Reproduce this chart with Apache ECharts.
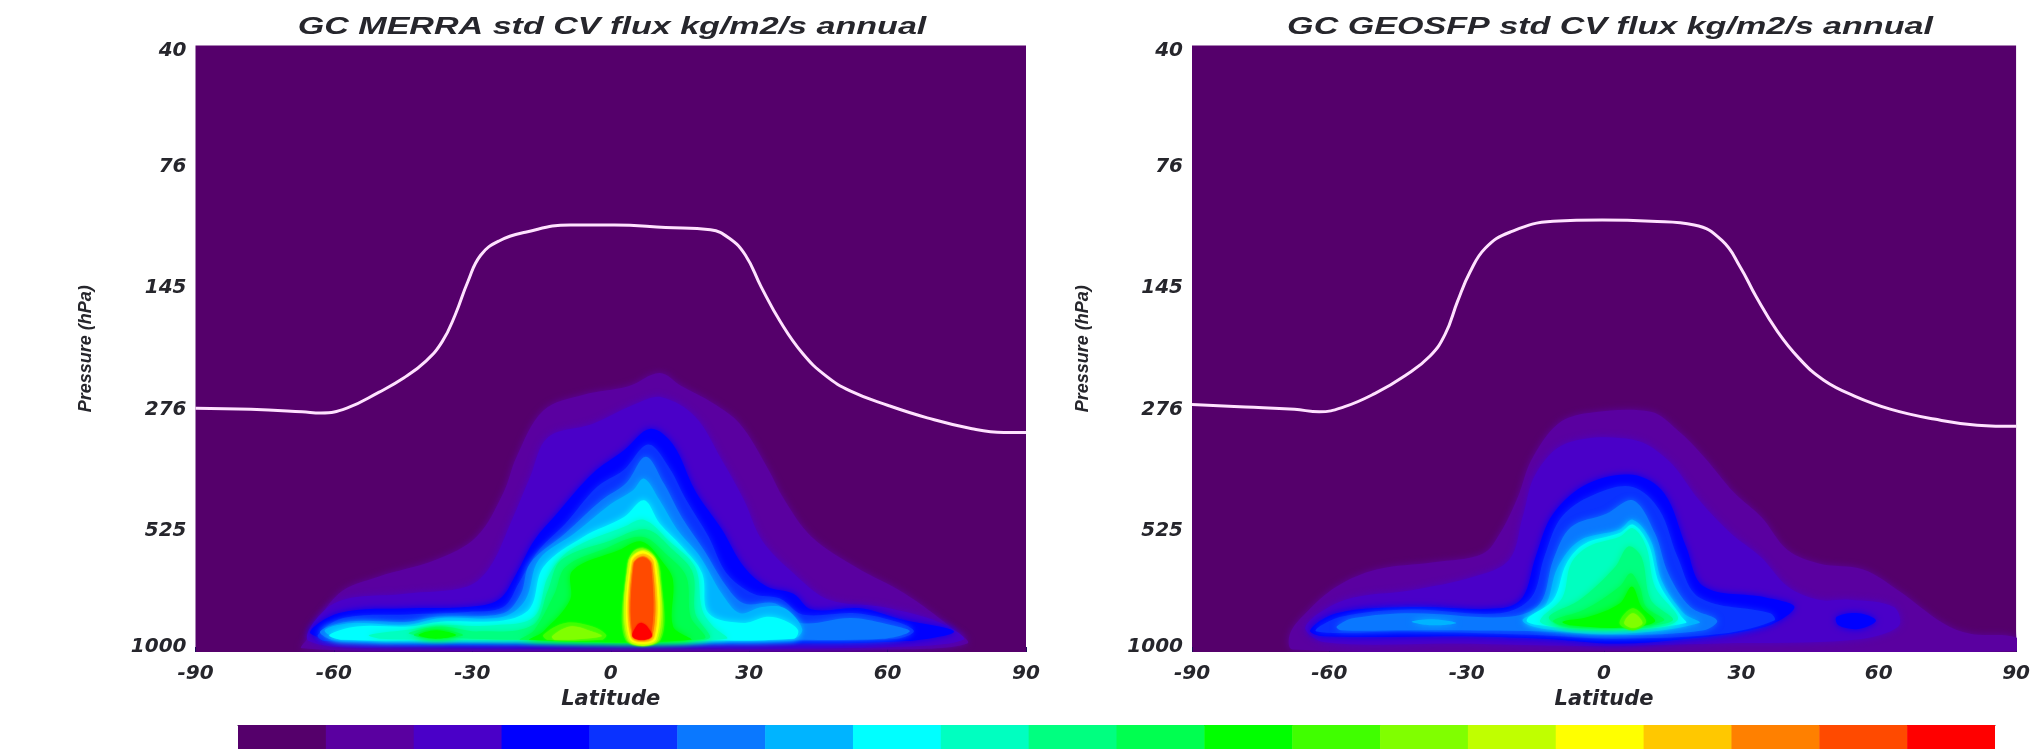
<!DOCTYPE html>
<html><head><meta charset="utf-8">
<style>html,body{margin:0;padding:0;background:#fff;overflow:hidden}#c{width:2033px;height:749px;filter:blur(0.7px)}</style>
<script src="https://cdn.jsdelivr.net/npm/echarts@6/dist/echarts.min.js"></script>
</head><body><div id="c"></div>
<script>
// Tick labels. The pressure axis is log-spaced: y values are the step index between these labels.
const pressureTicks = ['40','76','145','276','525','1000'];
const latTicks = [-90,-60,-30,0,30,60,90];
const bandColors = ['#55006b','#5a00a0','#4a00c8','#0000ff','#0a32ff','#0a78ff','#00b4ff','#00ffff','#00ffc0','#00ff80','#00ff50','#00ff00','#40ff00','#80ff00','#c0ff00','#ffff00','#ffc800','#ff8000','#ff4a00','#ff0000'];

// Tropopause lines: [latitude, pressure step]
const merraLine = [[-90,2.99],[-78,3.00],[-66.9,3.02],[-62.8,3.03],[-57.2,2.99],[-50.3,2.86],[-44.8,2.74],[-40,2.60],[-36.5,2.44],[-33.7,2.22],[-31,1.95],[-28.2,1.73],[-24.1,1.61],[-18.5,1.54],[-8.8,1.48],[0.8,1.48],[11.9,1.50],[21.6,1.52],[25.7,1.59],[29.2,1.73],[32.6,1.99],[36.8,2.28],[41.6,2.54],[46.5,2.72],[52,2.85],[60.3,2.97],[68.6,3.07],[78.3,3.16],[85.2,3.19],[90,3.19]];
const geosLine = [[-90,2.96],[-78.3,2.98],[-67.6,3.00],[-62.2,3.02],[-56.8,2.98],[-50.1,2.87],[-43.4,2.72],[-38,2.56],[-34.7,2.38],[-32,2.11],[-29.3,1.87],[-25.9,1.67],[-20.6,1.54],[-11.1,1.45],[-0.4,1.44],[10.3,1.45],[19.7,1.48],[25.8,1.61],[29.8,1.83],[33.2,2.07],[37.9,2.36],[42.6,2.58],[48,2.76],[54.7,2.89],[62.7,3.00],[72.1,3.08],[81.5,3.13],[90,3.14]];

// Filled contours of the MERRA panel: [latitude, pressure step], one array per colour band
const merra1 = [[-67,4.97],[-65.9,4.90],[-59,4.52],[-50.4,4.38],[-37.9,4.24],[-29.1,4.05],[-23.3,3.69],[-20.4,3.39],[-14.6,3.01],[-5.9,2.88],[3.8,2.81],[10.6,2.70],[15.4,2.81],[22.2,2.95],[28,3.12],[33.8,3.47],[37.7,3.75],[43.5,4.05],[53.1,4.30],[63.8,4.52],[73.5,4.79],[77.3,4.93],[60,4.98],[0,4.99],[-40,4.99]];
const merra2 = [[-65.4,4.91],[-60,4.60],[-44.6,4.52],[-31.1,4.46],[-26.2,4.30],[-21.4,3.91],[-17.5,3.56],[-13.6,3.23],[-4,3.12],[5.7,2.95],[11,2.90],[18.3,3.06],[24.1,3.42],[28.9,3.75],[32.8,4.08],[39.6,4.35],[47.3,4.57],[59,4.63],[71.5,4.76],[76.4,4.90],[60,4.96],[0,4.97],[-40,4.96]];
const merra3 = [[-65,4.85],[-59,4.68],[-42.7,4.64],[-31.1,4.63],[-24.3,4.57],[-20.4,4.35],[-16.6,4.08],[-11.7,3.86],[-4,3.53],[2.8,3.34],[8.6,3.16],[13.5,3.29],[18.3,3.67],[24.1,3.99],[28.9,4.30],[33.8,4.46],[39.6,4.52],[43.5,4.65],[54.1,4.64],[62.8,4.73],[74.4,4.83],[63.8,4.91],[30,4.93],[-20,4.94],[-50,4.93]];
const merra4 = [[-63.5,4.86],[-58,4.72],[-43.7,4.69],[-31.1,4.67],[-23.3,4.63],[-19.9,4.43],[-15.6,4.16],[-9.8,3.94],[-3,3.64],[2.8,3.50],[8.1,3.29],[12.5,3.47],[16.4,3.75],[21.2,4.05],[25.1,4.35],[30.9,4.52],[36.7,4.56],[41.5,4.69],[53.1,4.68],[62.8,4.76],[65.7,4.83],[61.9,4.89],[35,4.91],[-14,4.92],[-62,4.91]];
const merra5 = [[-63,4.83],[-57,4.75],[-43.7,4.75],[-37.9,4.71],[-23.3,4.68],[-19.5,4.52],[-17.5,4.27],[-9.8,4.02],[-2,3.75],[3.3,3.61],[7.6,3.39],[11.5,3.61],[15.4,3.89],[20.2,4.16],[25.1,4.46],[28.9,4.60],[35.7,4.60],[41,4.76],[52.2,4.72],[60.9,4.78],[64.8,4.83],[59,4.89],[35,4.90],[-14,4.91],[-60,4.90]];
const merra6 = [[-62,4.82],[-56,4.76],[-44.6,4.78],[-36.9,4.72],[-23.3,4.71],[-18.5,4.57],[-15.6,4.24],[-7.8,4.02],[0,3.78],[4.7,3.67],[7.2,3.57],[10.6,3.75],[14.4,3.99],[19.3,4.21],[24.1,4.52],[28,4.68],[32.8,4.63],[37.7,4.64],[41.5,4.81],[39.6,4.89],[10,4.90],[-30,4.90],[-58,4.90]];
const merra7 = [[-61,4.86],[-55,4.79],[-43.7,4.79],[-36.9,4.75],[-23.3,4.74],[-17.5,4.64],[-14.6,4.30],[-5.9,4.05],[2.8,3.89],[7.2,3.75],[10.6,3.94],[15.4,4.13],[19.8,4.35],[21.2,4.68],[28.9,4.76],[33.8,4.71],[37.7,4.74],[40.6,4.82],[39.6,4.89],[10,4.90],[-30,4.90],[-58,4.90]];
const merra8 = [[-52.4,4.86],[-42.7,4.81],[-36.9,4.78],[-25.3,4.78],[-16.6,4.71],[-13.6,4.38],[-8.8,4.16],[2.8,3.97],[7.2,3.91],[12.5,4.08],[18.3,4.30],[19.8,4.65],[22.2,4.79],[25.1,4.89],[0,4.90],[-30,4.90],[-50,4.89]];
const merra9 = [[-43.7,4.85],[-36.9,4.79],[-29,4.83],[-17,4.78],[-13.6,4.49],[-10.7,4.24],[0,4.08],[7.7,3.99],[13.5,4.16],[17.8,4.35],[18.3,4.68],[21.2,4.89],[-5,4.90],[-30,4.89]];
const merra10a = [[-42.7,4.86],[-37.9,4.81],[-32,4.86],[-38,4.89]];
const merra10b = [[-16.6,4.82],[-12.2,4.52],[-9.8,4.30],[-2,4.16],[6.7,4.05],[12.5,4.21],[16.4,4.38],[17.3,4.71],[20.2,4.89],[-19.5,4.90]];
const merra11a = [[-41.7,4.86],[-37.9,4.82],[-33.5,4.86],[-37.9,4.89]];
const merra11b = [[-14.6,4.83],[-8.8,4.57],[-8.3,4.33],[1.8,4.16],[6.7,4.09],[11.5,4.27],[13.5,4.41],[13.5,4.79],[17.3,4.90],[-17.5,4.90]];
const merra12a = [[-14.6,4.86],[-9.8,4.76],[-4,4.79],[-1,4.86],[-2,4.90],[-13.6,4.90]];
const merra12b = [[3.2,4.90],[3.5,4.30],[5,4.17],[7.2,4.14],[9.6,4.21],[10.8,4.35],[10.8,4.90]];
const merra13a = [[-12.7,4.87],[-8.8,4.79],[-4.9,4.82],[-2,4.87],[-12,4.90]];
const merra13b = [[3.5,4.90],[3.7,4.27],[5,4.17],[7.2,4.15],[9.3,4.21],[10.5,4.33],[10.5,4.90]];
const merra14 = [[3.8,4.90],[3.9,4.26],[7.2,4.16],[10.1,4.27],[10.1,4.90]];
const merra15 = [[4.1,4.89],[4.3,4.25],[6.9,4.17],[9.7,4.26],[9.8,4.89]];
const merra16 = [[4.4,4.88],[4.6,4.26],[7,4.19],[9.3,4.26],[9.4,4.88]];
const merra17 = [[4.7,4.87],[4.8,4.28],[7,4.21],[9,4.28],[9,4.87]];
const merra18 = [[4.9,4.87],[5,4.28],[6.9,4.22],[8.7,4.28],[8.6,4.87]];
const merra19 = [[4.7,4.87],[5.7,4.78],[6.7,4.76],[7.9,4.79],[8.9,4.87],[6.7,4.90]];

// Filled contours of the GEOSFP panel
const geos1 = [[-68.6,4.85],[-65.2,4.68],[-58.4,4.46],[-49.7,4.32],[-37.2,4.26],[-26.5,4.19],[-22.7,4.02],[-18.8,3.72],[-15.9,3.42],[-10.1,3.12],[-3.4,3.03],[10.2,3.02],[16,3.17],[21.8,3.39],[28.5,3.69],[34.4,3.89],[40.1,4.16],[46.9,4.27],[56.6,4.32],[64.2,4.49],[74,4.76],[80,4.85],[90,4.88],[90,4.99],[0,4.99],[-68,4.98]];
const geos2 = [[-65.2,4.79],[-56.5,4.57],[-42,4.49],[-28.5,4.38],[-20.7,4.24],[-17.8,3.89],[-14.9,3.53],[-8.2,3.28],[6.3,3.25],[14,3.42],[20.8,3.75],[27.6,4.02],[34.3,4.22],[40.1,4.46],[46.9,4.57],[53.7,4.57],[63.3,4.63],[64.3,4.79],[54.6,4.90],[25,4.93],[-3.4,4.95],[-32,4.93],[-61,4.92]];
const geos3a = [[-64.2,4.82],[-58.4,4.68],[-42,4.63],[-22.7,4.64],[-17.8,4.55],[-14.9,4.21],[-11.1,3.86],[-3.4,3.61],[6.3,3.54],[13.1,3.69],[17.9,4.13],[21.8,4.46],[35.3,4.55],[41.6,4.63],[35.3,4.79],[16,4.90],[2.4,4.93],[-13,4.89],[-32.3,4.87],[-61.3,4.87]];
const geos3b = [[50.8,4.71],[55.6,4.68],[59.4,4.74],[55.6,4.81],[51.2,4.78]];
const geos4 = [[-62.8,4.83],[-57.5,4.71],[-42,4.65],[-22.7,4.68],[-15.9,4.55],[-13,4.21],[-9.1,3.88],[-1.4,3.69],[6.3,3.64],[12.1,3.83],[16,4.21],[20.8,4.55],[36.3,4.68],[37.2,4.74],[25.6,4.85],[2.4,4.89],[-14.9,4.86],[-42,4.83]];
const geos5 = [[-58.4,4.79],[-54.6,4.72],[-42,4.68],[-20.7,4.71],[-14,4.60],[-11.1,4.24],[-7.2,3.97],[0.5,3.86],[6.3,3.75],[11.1,4.02],[14,4.35],[18.9,4.63],[24.7,4.74],[21.8,4.82],[3.4,4.86],[-13,4.83],[-42,4.82],[-57.5,4.82]];
const geos6a = [[-42,4.75],[-37.5,4.73],[-32.3,4.76],[-37.5,4.78]];
const geos6b = [[-17.8,4.74],[-13,4.63],[-10.1,4.30],[-5.3,4.08],[3.4,3.99],[6.3,3.91],[10.2,4.08],[12.6,4.41],[17.4,4.68],[20.8,4.76],[3.4,4.85],[-13,4.81]];
const geos7 = [[-16.9,4.74],[-11.1,4.57],[-8.2,4.27],[-4.3,4.11],[3.4,4.02],[6.3,3.95],[9.7,4.11],[12.1,4.44],[16.9,4.71],[17.9,4.76],[3.4,4.82],[-11.1,4.79]];
const geos8 = [[-14,4.74],[-9.1,4.55],[-7.2,4.27],[-3.4,4.13],[3.4,4.05],[6.3,3.98],[9.2,4.13],[11.1,4.46],[16,4.74],[2.4,4.81],[-11.1,4.79]];
const geos9 = [[-12,4.71],[-5.3,4.57],[2.4,4.30],[5.3,4.13],[8.2,4.22],[10.2,4.57],[15,4.74],[3.4,4.79],[-9.1,4.79]];
const geos10 = [[-11.1,4.74],[-4.3,4.65],[3.4,4.46],[5.8,4.35],[7.8,4.46],[9.2,4.63],[13.1,4.74],[3.4,4.79],[-9.1,4.78]];
const geos11 = [[-9.1,4.75],[-3.4,4.71],[3.4,4.60],[6.1,4.46],[8.2,4.63],[11.1,4.75],[3.4,4.80],[-7.2,4.78]];
const geos12 = [[3.4,4.76],[6.3,4.64],[9.2,4.75],[6.3,4.82]];
const geos13 = [[4.4,4.76],[6.3,4.68],[8.4,4.76],[6.3,4.80]];

const merraBands = [[1,merra1],[2,merra2],[3,merra3],[4,merra4],[5,merra5],[6,merra6],[7,merra7],[8,merra8],[9,merra9],[10,merra10a],[10,merra10b],[11,merra11a],[11,merra11b],[12,merra12a],[12,merra12b],[13,merra13a],[13,merra13b],[14,merra14],[15,merra15],[16,merra16],[17,merra17],[18,merra18],[19,merra19]];
const geosBands = [[1,geos1],[2,geos2],[3,geos3a],[3,geos3b],[4,geos4],[5,geos5],[6,geos6a],[6,geos6b],[7,geos7],[8,geos8],[9,geos9],[10,geos10],[11,geos11],[12,geos12],[13,geos13]];

const titleLeft = 'GC MERRA std CV flux kg/m2/s annual';
const titleRight = 'GC GEOSFP std CV flux kg/m2/s annual';

const font = 'DejaVu Sans';
const ink = '#26262c';
const labelStyle = {fontFamily:font,fontStyle:'italic',fontWeight:'bold',fontSize:20,color:ink};

function contourSeries(bands, idx){
  return {
    type:'custom', xAxisIndex:idx, yAxisIndex:idx, clip:true, silent:true, z:2,
    coordinateSystem:'cartesian2d',
    data: bands.map(b=>[b[0]]),
    encode:{x:[],y:[]},
    renderItem(params, api){
      const band = bands[params.dataIndex];
      const c = bandColors[band[0]];
      return {
        type:'polygon',
        shape:{points:band[1].map(p=>api.coord(p)), smooth:0.35},
        style:{fill:c, shadowBlur:band[0]>=12?2:7, shadowColor:c}
      };
    }
  };
}
function lineSeries(d, idx){
  return {type:'line', xAxisIndex:idx, yAxisIndex:idx, data:d, smooth:0.45, symbol:'none', z:5, silent:true,
    lineStyle:{color:'#ffe2ff', width:3}};
}
function xAx(idx){
  return {gridIndex:idx, type:'value', position:'bottom', min:-90, max:90, interval:30, splitLine:{show:false},
    axisLine:{show:false,onZero:false}, axisTick:{show:true, inside:true, length:5, lineStyle:{color:'#1c0c5a',width:1}},
    axisLabel:Object.assign({margin:12, showMinLabel:true, showMaxLabel:true},labelStyle),
    name:'Latitude', nameLocation:'middle', nameGap:32,
    nameTextStyle:Object.assign({},labelStyle,{fontSize:21})};
}
function yAx(idx){
  return {gridIndex:idx, type:'value', min:0, max:5, interval:1, inverse:true, splitLine:{show:false},
    axisLine:{show:false,onZero:false}, axisTick:{show:false},
    axisLabel:Object.assign({margin:9, lineHeight:11, formatter:v=>pressureTicks[v],
      verticalAlignMinLabel:'top', verticalAlignMaxLabel:'bottom'},labelStyle),
    name:'Pressure (hPa)', nameLocation:'middle', nameGap:100, nameRotate:90,
    nameTextStyle:{fontFamily:'Liberation Sans',fontStyle:'italic',fontWeight:'bold',fontSize:18,color:ink}};
}
function titleText(text, cx){
  return {type:'text', x:cx, y:27, scaleX:1.42, silent:true, z:10,
    style:{text, align:'center', verticalAlign:'middle', fill:ink,
      font:'italic bold 24px "Liberation Sans"'}};
}

const chart = echarts.init(document.getElementById('c'),null,{renderer:'canvas'});
chart.setOption({
  animation:false,
  backgroundColor:'#ffffff',
  graphic:[titleText(titleLeft,612), titleText(titleRight,1610)],
  grid:[
    {left:195.5, top:45.4, width:830.5, height:606.6, show:true, backgroundColor:bandColors[0], borderWidth:0},
    {left:1192, top:45.4, width:831, height:606.6, show:true, backgroundColor:bandColors[0], borderWidth:0},
    {left:238, top:725, width:1757, height:30, show:false}
  ],
  xAxis:[xAx(0),xAx(1),
    {gridIndex:2, type:'value', min:0, max:20, position:'top', show:true, splitLine:{show:false},
     axisLabel:{show:false}, axisTick:{show:false}, axisLine:{show:true,onZero:false,lineStyle:{color:'#222',width:1}}}],
  yAxis:[yAx(0),yAx(1),
    {gridIndex:2, type:'value', min:0, max:1, show:false}],
  series:[
    contourSeries(merraBands,0), lineSeries(merraLine,0),
    contourSeries(geosBands,1), lineSeries(geosLine,1),
    {type:'custom', xAxisIndex:2, yAxisIndex:2, silent:true, clip:true,
     data:bandColors.map((c,i)=>[i]),
     encode:{x:0},
     renderItem(params, api){
       const i = api.value(0);
       const a = api.coord([i,1]), b = api.coord([i+1,0]);
       return {type:'rect', shape:{x:a[0],y:a[1],width:b[0]-a[0]+0.5,height:b[1]-a[1]}, style:{fill:bandColors[i]}};
     }}
  ]
});
</script></body></html>
